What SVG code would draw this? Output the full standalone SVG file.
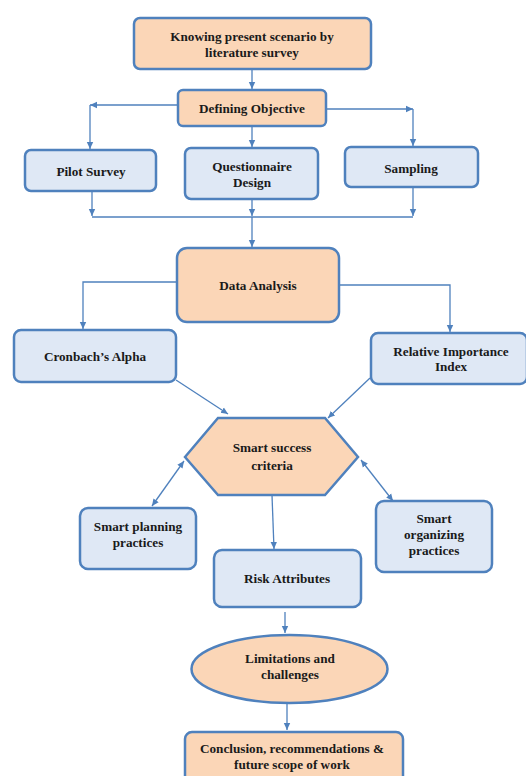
<svg xmlns="http://www.w3.org/2000/svg" width="526" height="776" viewBox="0 0 526 776">
<defs>
<marker id="ah" markerUnits="userSpaceOnUse" markerWidth="8" markerHeight="8" refX="7" refY="4" orient="auto-start-reverse">
<path d="M0,0.8 L7,4 L0,7.2 z" fill="#4F81BD"/>
</marker>
<style>
.o{fill:#FBD6B7;stroke:#4F81BD;stroke-width:2.5}
.b{fill:#DFE8F5;stroke:#4F81BD;stroke-width:2.5}
.c{fill:none;stroke:#4F81BD;stroke-width:1.3}
text{font-family:'Liberation Serif','DejaVu Serif',serif;font-weight:bold;font-size:13.2px;fill:#1a1a1a;text-anchor:middle}
</style>
</defs>
<rect width="526" height="776" fill="#fff"/>
<g id="connectors">
<path class="c" d="M252,69 V89" marker-end="url(#ah)"/>
<path class="c" d="M178,105 H90" marker-end="url(#ah)"/>
<path class="c" d="M90,105 V149" marker-end="url(#ah)"/>
<path class="c" d="M326,109 H413" marker-end="url(#ah)"/>
<path class="c" d="M413,109 V146" marker-end="url(#ah)"/>
<path class="c" d="M252,126 V147" marker-end="url(#ah)"/>
<path class="c" d="M92,191 V216" marker-end="url(#ah)"/>
<path class="c" d="M252,189 V216" marker-end="url(#ah)"/>
<path class="c" d="M413,187 V216" marker-end="url(#ah)"/>
<path class="c" d="M92,217 H413"/>
<path class="c" d="M252,217 V247" marker-end="url(#ah)"/>
<path class="c" d="M177,282 H83 V329" marker-end="url(#ah)"/>
<path class="c" d="M339,285 H450 V332" marker-end="url(#ah)"/>
<path class="c" d="M176,380 L228,414" marker-end="url(#ah)"/>
<path class="c" d="M370,378 L328,418" marker-end="url(#ah)"/>
<path class="c" d="M184,461 L152,506" marker-start="url(#ah)" marker-end="url(#ah)"/>
<path class="c" d="M361,460 L393,501" marker-start="url(#ah)" marker-end="url(#ah)"/>
<path class="c" d="M272,495 L274,549" marker-end="url(#ah)"/>
<path class="c" d="M285,612 V633" marker-end="url(#ah)"/>
<path class="c" d="M287,704 V730" marker-end="url(#ah)"/>
</g>
<g id="n1"><rect class="o" x="134" y="18" width="237" height="51" rx="6"/><text x="252" y="41">Knowing present scenario by</text><text x="252" y="57">literature survey</text></g>
<g id="n2"><rect class="o" x="178" y="90" width="148" height="36" rx="5"/><text x="252" y="113">Defining Objective</text></g>
<g id="n3"><rect class="b" x="25" y="150" width="131" height="41" rx="6"/><text x="91" y="176">Pilot Survey</text></g>
<g id="n4"><rect class="b" x="185" y="148" width="133" height="51" rx="6"/><text x="252" y="171">Questionnaire</text><text x="252" y="187">Design</text></g>
<g id="n5"><rect class="b" x="345" y="147" width="133" height="40" rx="6"/><text x="411" y="173">Sampling</text></g>
<g id="n6"><rect class="o" x="177" y="248" width="162" height="74" rx="10"/><text x="258" y="290">Data Analysis</text></g>
<g id="n7"><rect class="b" x="14" y="330" width="162" height="52" rx="7"/><text x="95" y="361">Cronbach’s Alpha</text></g>
<g id="n8"><rect class="b" x="371" y="333" width="156" height="51" rx="7"/><text x="451" y="356">Relative Importance</text><text x="451" y="371">Index</text></g>
<g id="n9"><polygon class="o" points="185,457 218,418 325,418 358,457 325,495 218,495"/><text x="272" y="452">Smart success</text><text x="272" y="470">criteria</text></g>
<g id="n10"><rect class="b" x="80" y="508" width="116" height="61" rx="8"/><text x="138" y="531">Smart planning</text><text x="138" y="547">practices</text></g>
<g id="n11"><rect class="b" x="214" y="550" width="147" height="57" rx="8"/><text x="287" y="583">Risk Attributes</text></g>
<g id="n12"><rect class="b" x="376" y="501" width="116" height="71" rx="8"/><text x="434" y="523">Smart</text><text x="434" y="539">organizing</text><text x="434" y="555">practices</text></g>
<g id="n13"><ellipse class="o" cx="289.5" cy="669" rx="98" ry="34"/><text x="290" y="663">Limitations and</text><text x="290" y="679">challenges</text></g>
<g id="n14"><rect class="o" x="185" y="732" width="218" height="60" rx="7"/><text x="292" y="753">Conclusion, recommendations &amp;</text><text x="292" y="769">future scope of work</text></g>
</svg>
